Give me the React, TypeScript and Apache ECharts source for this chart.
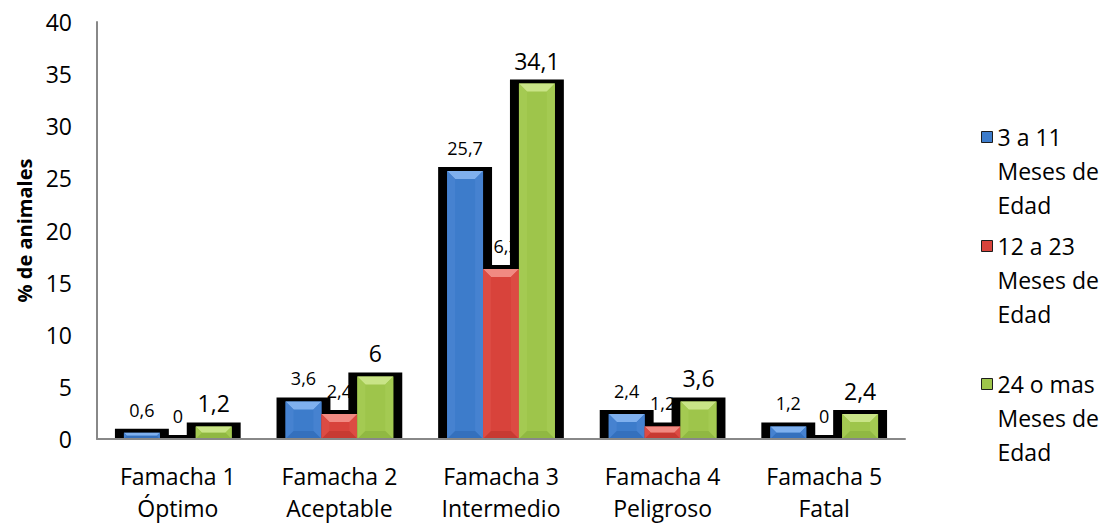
import React, { useEffect, useRef } from "react";
import * as echarts from "echarts";

// Famacha score categories (x axis)
const categories = [
  "Famacha 1\nÓptimo",
  "Famacha 2\nAceptable",
  "Famacha 3\nIntermedio",
  "Famacha 4\nPeligroso",
  "Famacha 5\nFatal",
];

// Age groups
const groupNames = [
  "3 a 11\nMeses de\nEdad",
  "12 a 23\nMeses de\nEdad",
  "24 o mas\nMeses de\nEdad",
];

// % of animals per Famacha score, per age group
const age3to11 = [0.6, 3.6, 25.7, 2.4, 1.2];
const age12to23 = [0, 2.4, 16.3, 1.2, 0];
const age24plus = [1.2, 6, 34.1, 3.6, 2.4];

// y axis range
const yMin = 0;
const yMax = 40;
const yStep = 5;

const FONT = "'Open Sans', 'Noto Sans', sans-serif";

const palettes = [
  { base: "#3d7ccb", light: "#7fb0ee", side: "#4682d0", dark: "#3470bd" },
  { base: "#d8433b", light: "#f18a82", side: "#dc4b43", dark: "#c73a32" },
  { base: "#9ec54b", light: "#c9e487", side: "#a4ca52", dark: "#90b842" },
];

const labelSizes = [18, 18, 23];
const legendTops = [52, 161, 299];

function fmt(v: number) {
  return String(v).replace(".", ",");
}

function barGeom(api: any, s: number) {
  const catW = api.size([1, 0])[0];
  const bw = (catW * 2) / 9;
  const base = api.coord([api.value(0), 0]);
  const top = api.coord([api.value(0), api.value(1)]);
  const x = base[0] + (s - 1) * bw - bw / 2;
  return { x, y: top[1], w: bw, h: base[1] - top[1], cx: base[0] + (s - 1) * bw };
}

export default function App() {
  const ref = useRef<HTMLDivElement>(null);

  useEffect(() => {
    document.body.style.margin = "0";
    if (!ref.current) return;
    const chart = echarts.init(ref.current, undefined, { renderer: "svg" });
    const groups = [age3to11, age12to23, age24plus];

    const series: any[] = [];
    groups.forEach((vals, s) => {
      const data = vals.map((v, i) => [i, v]);
      const pal = palettes[s];
      // value labels (lowest layer: later shadows may overlap them)
      series.push({
        type: "custom",
        z: 1,
        silent: true,
        data,
        renderItem: (params: any, api: any) => {
          const g = barGeom(api, s);
          return {
            type: "text",
            x: g.cx,
            y: g.y - 23,
            style: {
              text: fmt(api.value(1)),
              fill: "#000",
              font: `${labelSizes[s]}px ${FONT}`,
              align: "center",
              verticalAlign: "middle",
            },
          };
        },
      });
      // black drop shadows behind bars
      series.push({
        type: "custom",
        z: 2,
        silent: true,
        data,
        renderItem: (params: any, api: any) => {
          const g = barGeom(api, s);
          return {
            type: "rect",
            shape: { x: g.x - 9, y: g.y - 4, width: g.w + 18, height: g.h + 4 },
            style: { fill: "#000" },
          };
        },
      });
      // bevelled bars
      series.push({
        type: "custom",
        name: groupNames[s],
        z: 3,
        data,
        itemStyle: { color: pal.base },
        renderItem: (params: any, api: any) => {
          const g = barGeom(api, s);
          const { x, y, w, h } = g;
          if (h <= 0.5) return { type: "group", children: [] };
          const b = Math.min(8, w / 2, h / 2);
          return {
            type: "group",
            children: [
              { type: "rect", shape: { x, y, width: w, height: h }, style: { fill: pal.base } },
              {
                type: "polygon",
                shape: { points: [[x, y], [x + w, y], [x + w - b, y + b], [x + b, y + b]] },
                style: { fill: pal.light },
              },
              {
                type: "polygon",
                shape: { points: [[x, y], [x + b, y + b], [x + b, y + h - b], [x, y + h]] },
                style: { fill: pal.side },
              },
              {
                type: "polygon",
                shape: { points: [[x + w, y], [x + w, y + h], [x + w - b, y + h - b], [x + w - b, y + b]] },
                style: { fill: pal.side },
              },
              {
                type: "polygon",
                shape: { points: [[x, y + h], [x + b, y + h - b], [x + w - b, y + h - b], [x + w, y + h]] },
                style: { fill: pal.dark },
              },
            ],
          };
        },
      });
    });

    // one legend block per age group, the swatch level with the first text line
    const legends = groupNames.map((name, s) => ({
      data: [name],
      orient: "vertical",
      left: 981,
      top: legendTops[s],
      padding: 0,
      icon: "rect",
      itemWidth: 11,
      itemHeight: 11,
      itemGap: 0,
      itemStyle: { borderColor: "#1d1d1d", borderWidth: 1 },
      formatter: (n: string) => "\n\n" + n,
      textStyle: {
        fontFamily: FONT,
        fontSize: 23,
        color: "#000",
        lineHeight: 34,
      },
      selectedMode: false,
    }));

    chart.setOption({
      animation: false,
      backgroundColor: "#fff",
      grid: { left: 97, right: 202, top: 22, bottom: 79, containLabel: false },
      legend: legends,
      xAxis: {
        type: "category",
        data: categories,
        z: 10,
        axisLine: { show: true, lineStyle: { color: "#888", width: 2 } },
        axisTick: { show: false },
        axisLabel: {
          color: "#000",
          fontFamily: FONT,
          fontSize: 23,
          lineHeight: 32,
          margin: 21,
          interval: 0,
        },
      },
      yAxis: {
        type: "value",
        min: yMin,
        max: yMax,
        interval: yStep,
        axisLine: { show: true, lineStyle: { color: "#888", width: 2 } },
        axisTick: { show: false },
        splitLine: { show: false },
        axisLabel: { color: "#000", fontFamily: FONT, fontSize: 23, margin: 25 },
        name: "% de animales",
        nameLocation: "middle",
        nameGap: 43,
        nameTextStyle: { color: "#000", fontFamily: FONT, fontSize: 20, fontWeight: "bold" },
      },
      series,
    });

    return () => chart.dispose();
  }, []);

  return <div ref={ref} style={{ width: 1107, height: 524 }} />;
}
